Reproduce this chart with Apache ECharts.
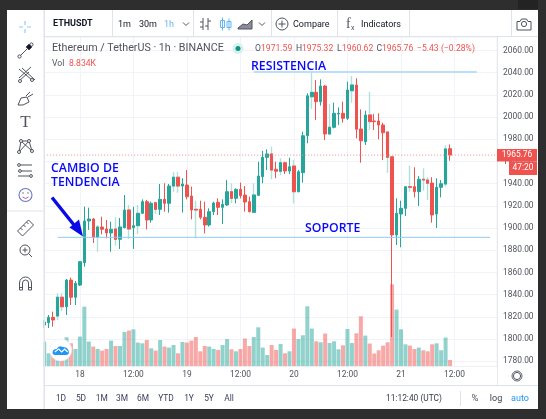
<!DOCTYPE html>
<html>
<head>
<meta charset="utf-8">
<style>html,body{margin:0;padding:0;background:#2e2e2e;overflow:hidden}#c{width:546px;height:419px}</style>
<script src="https://cdn.jsdelivr.net/npm/echarts@6/dist/echarts.min.js"></script>
</head>
<body>
<div id="c"></div>
<script>
const opens=[1812.7,1814.8,1819.6,1820.8,1837.7,1829.2,1853.2,1837.7,1848.7,1868.8,
1906.4,1908.2,1891.7,1901,1899.2,1895.6,1899.2,1889.9,1900.4,1916.3,
1900.4,1902.2,1913.3,1923.8,1907.3,1922.9,1916.9,1925.9,1922.3,1937.9,
1945.8,1937.9,1938.8,1928.9,1916.9,1916.9,1909.7,1902.8,1914.8,1923.2,
1918.7,1920.8,1932.8,1926.8,1934.9,1929.8,1923.8,1914.2,1929.5,1946.3,
1963.8,1966.8,1953,1951.2,1958.9,1951.4,1955.9,1932.8,1949.9,1983.2,
2018.4,2022.3,2013.9,2028,1984.8,1990.8,2002.8,2003.4,1998.9,2023.8,
2028.9,1989.3,1977.8,2001.9,1996.5,1996.5,1992.9,1986.6,1964.3,1893.8,
1912.7,1917.8,1937.3,1937.3,1932.8,1944,1943.3,1940.6,1912.7,1936.8,
1939.7,1971.59];
const closes=[1815.4,1819.6,1817.2,1837.7,1829.2,1853.2,1837.7,1850.3,1869.7,1906.4,
1908.2,1891.7,1901,1898.9,1895.6,1898.9,1889.9,1901,1916.3,1899.2,
1902.2,1913.3,1923.8,1907.3,1922.3,1916.9,1925.9,1922.3,1937.9,1945.8,
1937.9,1939.7,1928.3,1916.3,1916.3,1909.7,1902.8,1914.8,1922.6,1918.7,
1921.4,1932.8,1926.8,1934.9,1929.2,1923.5,1914.8,1929.8,1946.9,1963.8,
1966.8,1952.3,1951.2,1958.9,1951.4,1955.3,1932.8,1950.8,1983.2,2019.2,
2022.3,2013.9,2028,1984.8,1990.8,2003.4,2003.4,1998.9,2024.4,2028.9,
1989,1978.7,2001.9,1995.9,1995.9,1992.9,1985.9,1963.8,1893.8,1913.3,
1917.8,1937.3,1936.8,1932.8,1944,1943.3,1940.4,1911.8,1936.8,1940,
1971.3,1965.76];
const lows=[1810,1810,1811.2,1817.2,1825.3,1821.7,1830.7,1830.7,1847.8,1865.2,
1898.3,1886.6,1878.7,1894.4,1890.8,1878.7,1884.1,1881.2,1899.8,1890.2,
1881.2,1894.7,1912.7,1898.9,1904.9,1912.7,1911.8,1914.8,1913.9,1932.8,
1931.9,1913.9,1925.9,1907.9,1890.8,1907.9,1895.3,1901.3,1911.8,1911.8,
1903.7,1919.9,1922.3,1922.3,1926.8,1914.8,1914.2,1913.9,1928.9,1940.4,
1952.3,1944,1944.9,1947.8,1948.7,1948.7,1922.3,1932.2,1940.9,1976.4,
2007.3,1997.4,2010.3,1979.4,1983.9,1989.9,1992.9,1995,1997.4,2013,
1980.9,1958.9,1974.9,1988.4,1988.4,1980,1961.3,1949.9,1801.9,1884.8,
1882.7,1910.9,1932.8,1927.7,1919.9,1933.7,1925.3,1904.9,1900.1,1927.7,
1937.3,1960.62];
const highs=[1817.2,1821.7,1824.7,1841.3,1841.3,1854.1,1855.3,1852.3,1870.4,1919.3,
1918.4,1909.1,1902.8,1910.3,1907.3,1905.8,1909.7,1909.1,1929.8,1920.8,
1919.3,1920.8,1925.9,1925.3,1923.8,1923.2,1939.7,1940.4,1939.7,1950.5,
1950.5,1944.9,1952.3,1937.3,1924.7,1924.7,1923.8,1917.8,1923.8,1926.8,
1925.9,1943.3,1940.4,1935.8,1940.9,1937.9,1928.3,1940.4,1959.8,1969.5,
1971,1973.3,1959.8,1962.9,1959.8,1963.4,1961.3,1952.3,1986.8,2021.4,
2040.9,2033.4,2034,2028.9,2011.8,2013,2008.8,2013.9,2031.9,2037,
2035,2007,2005.8,2022.9,2002.8,2003.4,1995,1986.6,1964.3,1926.8,
1924.7,1937.3,1956.2,1954.8,1946.9,1953.9,1945.8,1945.8,1944.9,1943.3,
1974.6,1975.32];
const volumes=[34.6,18.2,17,28,28,40.6,32.2,24.2,41.6,83.4,
34.6,27.6,24.2,22,24.2,36,28.4,28.4,48,50,
51.8,33.2,32.2,36.8,25.2,22,36.8,27.6,26.2,29.8,
18.2,34,33.2,36,41,21,28.4,27.6,24.2,22.8,
29.8,38.2,23.8,21,24.2,38.8,28.4,41,54.6,26.2,
15.8,29.8,22.8,31.2,18.2,21,52.8,38.2,43.4,84,
52.8,35,33.6,45.8,32.6,35,23.8,29.4,52.2,32.6,
46.2,70,43,31.8,17.8,22.4,29,33.6,114.8,79.4,
51.8,30.8,29,24.2,26.2,22.4,21,30.8,32.2,22.4,
40.2,8.834];
const tickPositions=[8,20,32,44,56,68,80,92];
const tickLabels=['18','12:00','19','12:00','20','12:00','21','12:00'];
const priceTicks=[2060,2040,2020,2000,1980,1960,1940,1920,1900,1880,1860,1840,1820,1800,1780];
const resistance=2040.6, support=1891.7, lastPrice=1965.76;
const softWickBars=[3,4,12,16,19,21,25,29,30,34,42,47,51,53,56,60,64,69,73,77,82,85,86,90];

const UP='#26a69a', DOWN='#ef5350', BORDER='#e0e3eb', GRID='#f1f3f8', TXT='#50535e', FONT='Roboto, sans-serif';
const slotCount=103;
const categories=Array.from({length:slotCount},(_,i)=>{const k=tickPositions.indexOf(i);return k>=0?tickLabels[k]:''});
const candleData=opens.map((o,i)=>{
  const item={value:[o,closes[i],lows[i],highs[i]]};
  if(softWickBars.includes(i)) item.itemStyle={borderColor:'#b2dfda',borderColor0:'#fbc9c7',borderWidth:1.4};
  return item;
});
// solid bodies drawn again over the bars whose wicks are soft
const softBodies=opens.map((o,i)=>softWickBars.includes(i)?[o,closes[i],Math.min(o,closes[i]),Math.max(o,closes[i])]:'-');
const volData=volumes.map((v,i)=>({value:v,itemStyle:{color:closes[i]>=opens[i]?'rgba(38,166,154,0.5)':'rgba(239,83,80,0.5)'}}));

const G=[];
const Z=100;
let iconCount=0;
function rect(x,y,w,h,fill,z){G.push({type:'rect',silent:true,z:z||Z,shape:{x,y,width:w,height:h},style:{fill}})}
function text(x,y,s,size,fill,align,weight,fam,z){G.push({type:'text',silent:true,z:z||Z+5,style:{x,y,text:s,fill,textAlign:align||'left',textVerticalAlign:'middle',font:(weight||'normal')+' '+size+'px '+(fam||FONT)}})}
function icon(d,x,y,stroke,fill,lw,z){
  const name='ic'+(iconCount++);
  echarts.graphic.registerShape(name,echarts.graphic.extendPath(d));
  G.push({type:name,silent:true,z:z||Z+5,x,y,style:{fill:fill||'none',stroke:stroke||'#50535e',lineWidth:lw||1}});
}
function circle(cx,cy,r,fill,stroke,lw,z){G.push({type:'circle',silent:true,z:z||Z+5,shape:{cx,cy,r},style:{fill:fill||'none',stroke:stroke||'none',lineWidth:lw||1}})}

// frame and panels that mask the plot's outer edges
rect(7,10,36.5,399,'#ffffff');
rect(43.5,10,1.5,399,BORDER);
rect(45,10,493,26,'#ffffff');
rect(45,36,493,1.2,BORDER);
rect(497.3,37,41,348.5,'#ffffff');
rect(496.8,37,1,348.5,BORDER);
rect(45,366.8,452,18.5,'#ffffff');
rect(45,366.3,452,.8,'#e9ebf1');
rect(45,385,493,1.2,BORDER);
rect(45,386.2,493,23,'#ffffff');
rect(0,0,546,10,'#2e2e2e');
rect(0,409,546,10,'#2e2e2e');
rect(0,0,7,419,'#2e2e2e');
rect(538,0,8,419,'#2e2e2e');
rect(518,0,20,9,'#232323',Z+1);
// toolbar separators
[112,193,271,337,409,511].forEach(x=>rect(x,10,1,26,BORDER,Z+1));
rect(7,210.5,36.5,1,BORDER,Z+1);

// toolbar
text(53,24,'ETHUSDT',9,'#131722','left','bold');
text(118,24.5,'1m',9,'#131722');
text(139,24.5,'30m',9,'#131722');
text(164,24.5,'1h',9,'#64b5f6');
icon('M0 0L3 3L6 0',183,22.5,'#50535e');
icon('M3 0V12M0 9H3M3 4H0M8 0V12M8 3H11M8 8H5',200,18);
icon('M2.5 0V13M0.5 3h4v7h-4zM9 1V13M7 4h4v6h-4z',220,17.5,'#64b5f6');
icon('M0 9L5 5L9 6L14 1V10H0Z',238,19,'#50535e','#8a8d99');
icon('M0 0L3 3L6 0',259,22.5,'#50535e');
circle(282,24,6,null,'#50535e',1);
icon('M-3.5 0H3.5M0 -3.5V3.5',282,24);
text(293,24.5,'Compare',9,'#131722');
text(346,24,'f',14,'#50535e','left','normal','Liberation Serif');
text(351,28,'x',7,'#50535e');
text(361,24.5,'Indicators',9,'#131722');
icon('M0 3H3L4.5 0.5H9.5L11 3H14V11.5H0Z',517,18.5);
circle(524,24,2.6,null,'#50535e',1);

// left tools
icon('M0 -6V-2M0 2V6M-6 0H-2M2 0H6',25,27,'#90caf9','none',1.2);
icon('M-7 7L7 -7',25.5,50.5);circle(19.5,56.5,1.6,'#fff','#50535e');circle(31.5,44.5,1.6,'#fff','#50535e');icon('M-3 0L0 -3L3 0L0 3Z',29,47,'#50535e','#131722');
icon('M-7 -6L6 5M-4 -7L9 5M-7 3L5 -8M-7 6L3 -3',26,75);circle(20,81,1.5,'#fff','#50535e');circle(32,80,1.5,'#fff','#50535e');
icon('M-7 5L-4 -2L2 -3L4 2L-2 5ZM3 -3L8 -6M1 -4L5 -8',25,100);
text(25.5,123,'T',17,'#50535e','center','normal','Liberation Serif');
icon('M-6 6L-4 -5L4 -5L7 5M-4 -5L7 5M-6 6L4 -5',25,146);[[19,152],[21,141],[29,141],[32,151]].forEach(p=>circle(p[0],p[1],1.5,'#fff','#50535e'));
icon('M-7 -5H7M-7 1H7M-7 6H7',25,170);circle(19,165,1.4,'#fff','#50535e');circle(31,176,1.4,'#fff','#50535e');circle(20,171,1.4,'#fff','#50535e');
circle(25.5,195,6.5,null,'#6a78c8',1.1);icon('M-3 2Q0 5 3 2',25.5,195,'#c65b8e');circle(23,193,.7,'#50535e');circle(28,193,.7,'#50535e');
icon('M-8 3L3 -8L8 -3L-3 8ZM-5 0L-3 2M-2 -3L0 -1M1 -6L3 -4',25.5,228);
circle(25,250,5,null,'#50535e');icon('M-2.5 0H2.5M0 -2.5V2.5',25,250);icon('M3.6 3.6L7 7',25,250);
icon('M-6 6V-1A6 6 0 0 1 6 -1V6H3V-1A3 3 0 0 0 -3 -1V6ZM-6 3.5H-3M3 3.5H6',25.5,284);

// legend
text(52,48.5,'Ethereum / TetherUS · 1h · BINANCE',10.7,TXT);
circle(238,48.5,5.5,'#d9f0ee');circle(238,48.5,2.5,'#089981');
const R=DOWN;
[[255,'O',TXT],[261,'1971.59',R],[296,'H',TXT],[302,'1975.32',R],[337,'L',TXT],[342,'1960.62',R],[376.5,'C',TXT],[382,'1965.76',R],[417,'−5.43',R],[441,'(−0.28%)',R]].forEach(a=>text(a[0],48.5,a[1],8.6,a[2]));
text(52,64,'Vol',8.6,TXT);
text(69,64,'8.834K',8.6,R);

// annotations
const BLUE='#0808ff', AF='"Open Sans", sans-serif';
text(251,66,'RESISTENCIA',12.3,BLUE,'left','600',AF,Z-1);
text(305,228,'SOPORTE',12.3,BLUE,'left','600',AF,Z-1);
text(51,168,'CAMBIO DE',12.3,BLUE,'left','600',AF,Z-1);
text(51,182,'TENDENCIA',12.3,BLUE,'left','600',AF,Z-1);
G.push({type:'line',silent:true,z:Z-1,shape:{x1:52,y1:197.5,x2:78,y2:230},style:{stroke:'#0a0ae6',lineWidth:3.4}});
G.push({type:'polygon',silent:true,z:Z-1,shape:{points:[[83,236.5],[69.5,227.5],[79,219.5]]},style:{fill:'#0a0ae6'}});

// logo
circle(60.7,350,11,'#ffffff','#eeeeee',.6,Z-1);
icon('M-8 4Q-9 -1 -4 -1Q-2 -5 2 -3Q7 -3 8 1Q9 5 5 5H-5Q-7 5 -8 4Z',60.7,350,'none','#2196f3',1,Z-1);
icon('M-6 2L-2 -1L1 2L4 -1L7 2',60.7,350,'#ffffff','none',1.2,Z-1);

// price labels
rect(497,149,40,12.5,DOWN,Z+20);
text(517,155.3,'1965.76',8.4,'#ffffff','center','normal',FONT,Z+21);
rect(509,161.5,28,13.5,DOWN,Z+20);
text(523,168.3,'47:20',8.4,'#ffffff','center','normal',FONT,Z+21);

// bottom bar
[[61,'1D'],[81,'5D'],[101.7,'1M'],[122,'3M'],[143,'6M'],[166,'YTD'],[189,'1Y'],[209,'5Y'],[229,'All']].forEach(a=>text(a[0],398.5,a[1],8.4,'#3a3e5c','center'));
text(386,399,'11:12:40 (UTC)',8.4,'#3a3e4a');
rect(460,391,1,15,BORDER,Z+1);
text(475,399,'%',9.5,TXT,'center');
text(496,399,'log',9,'#3a3e4a','center');
text(520,399,'auto',9,'#2196f3','center');
circle(517,376,3.6,null,'#50535e',1);
circle(517,376,5,null,'#50535e',.9);

function levelLine(from,to,value,color,width,type){
  return {type:'line',xAxisIndex:0,yAxisIndex:0,data:[[from,value],[to,value]],symbol:'none',silent:true,z:3,
    lineStyle:{color,width,type},itemStyle:{color}};
}
const candleStyle={color:UP,color0:DOWN,borderColor:UP,borderColor0:DOWN,borderWidth:1};

const option={
  animation:false,
  backgroundColor:'#ffffff',
  graphic:{elements:G},
  grid:[
    {left:44.2,top:28.3,width:454.9,height:355.2},
    {left:44.2,top:266.3,width:454.9,height:100}
  ],
  xAxis:[
    {type:'category',gridIndex:0,data:categories,boundaryGap:false,
     axisLine:{show:false},axisTick:{show:false},axisLabel:{show:false},
     splitLine:{show:true,interval:(i)=>tickPositions.includes(i),lineStyle:{color:GRID,width:1}}},
    {type:'category',gridIndex:1,data:categories,boundaryGap:false,z:Z+6,
     axisLine:{show:false},axisTick:{show:false},
     axisLabel:{show:true,interval:(i)=>tickPositions.includes(i),margin:5,fontFamily:FONT,fontSize:8.4,color:TXT,hideOverlap:false},
     splitLine:{show:false}}
  ],
  yAxis:[
    {type:'value',gridIndex:0,position:'right',min:1760,max:2080,interval:20,
     axisLine:{show:false},axisTick:{show:false},axisLabel:{show:false},
     splitLine:{show:true,lineStyle:{color:GRID,width:1}}},
    {type:'value',gridIndex:1,min:0,max:140,show:false,splitLine:{show:false}},
    {type:'value',gridIndex:0,position:'right',min:1760,max:2080,interval:20,z:Z+6,
     axisLine:{show:false},axisTick:{show:false},splitLine:{show:false},
     axisLabel:{margin:4,fontFamily:FONT,fontSize:8.4,color:TXT,
       formatter:v=>priceTicks.includes(v)?v.toFixed(2):''}}
  ],
  series:[
    {type:'bar',xAxisIndex:1,yAxisIndex:1,data:volData,barWidth:4,z:1,silent:true,clip:true},
    {type:'candlestick',xAxisIndex:0,yAxisIndex:0,data:candleData,barWidth:3,z:2,silent:true,clip:true,itemStyle:candleStyle},
    {type:'candlestick',xAxisIndex:0,yAxisIndex:0,data:softBodies,barWidth:3,z:2,silent:true,clip:true,itemStyle:candleStyle},
    levelLine(0,102,lastPrice,'#e98f8c',1,[1,2]),
    levelLine(47,97,resistance,'#bbdefb',2,'solid'),
    levelLine(3,100,support,'#90caf9',1,'solid')
  ]
};
const chart=echarts.init(document.getElementById('c'),null,{renderer:'canvas'});
chart.setOption(option);
</script>
</body>
</html>
